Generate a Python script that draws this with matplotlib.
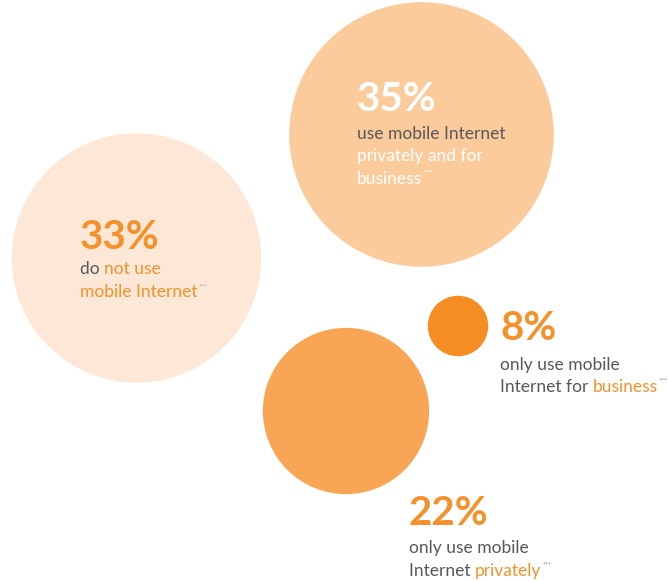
import matplotlib.pyplot as plt
from matplotlib.patches import Circle

# share of respondents per group (%)
shares = [33, 35, 8, 22]
labels = ["33%", "35%", "8%", "22%"]
# text lines per bubble, each line a list of (text, colour key)
captions = [
    [[("do ", "grey"), ("not use", "orange")],
     [("mobile Internet", "orange")]],
    [[("use mobile Internet", "grey")],
     [("privately and for", "white")],
     [("business", "white")]],
    [[("only use mobile", "grey")],
     [("Internet for ", "grey"), ("business", "orange")]],
    [[("only use mobile", "grey")],
     [("Internet ", "grey"), ("privately", "orange")]],
]

# layout (pixels)
centers = [(136.5, 258), (421.5, 134.5), (458, 326), (346, 411)]
fills = ["#fde8d8", "#fbcb9c", "#f68d22", "#f8a556"]
text_pos = [(80, 249), (357, 111), (500, 340), (409, 525)]
big_col = ["orange", "white", "orange", "orange"]
note_col = ["#b0a8a0", "#ffffff", "#8a8a8a", "#8a8a8a"]
line_gap = [23, 22.5, 21.5, 23]
first_gap = [25, 28, 30, 28]
palette = {"grey": "#58585a", "orange": "#f5912a", "white": "#ffffff"}
px_per_pct = 3.78
body_size = 12.5
big_size = 29

plt.rcParams['font.family'] = ['Lato', 'DejaVu Sans']

fig = plt.figure(figsize=(6.68, 5.82), dpi=100)
ax = fig.add_axes([0, 0, 1, 1])
ax.set_xlim(0, 668)
ax.set_ylim(582, 0)
ax.axis('off')

renderer = fig.canvas.get_renderer()


def text_width(s, size):
    # width in pixels, keeping trailing spaces by measuring against a bar
    t1 = ax.text(0, 0, s + "|", fontsize=size)
    t2 = ax.text(0, 0, "|", fontsize=size)
    w = t1.get_window_extent(renderer).width - t2.get_window_extent(renderer).width
    t1.remove()
    t2.remove()
    return w


for i, share in enumerate(shares):
    ax.add_patch(Circle(centers[i], share * px_per_pct, color=fills[i], lw=0))

    x0, y = text_pos[i]
    ax.text(x0, y, labels[i], fontsize=big_size, fontweight='bold',
            color=palette[big_col[i]], va='baseline', ha='left')
    y += first_gap[i]
    for line in captions[i]:
        x = x0
        for seg, key in line:
            ax.text(x, y, seg, fontsize=body_size, color=palette[key],
                    va='baseline', ha='left')
            x += text_width(seg, body_size)
        last_y = y
        y += line_gap[i]
    # footnote marker after the final word
    ax.text(x + 1, last_y - 8, "***", fontsize=5, color=note_col[i],
            va='baseline', ha='left')

fig.savefig("out.png", dpi=100)
